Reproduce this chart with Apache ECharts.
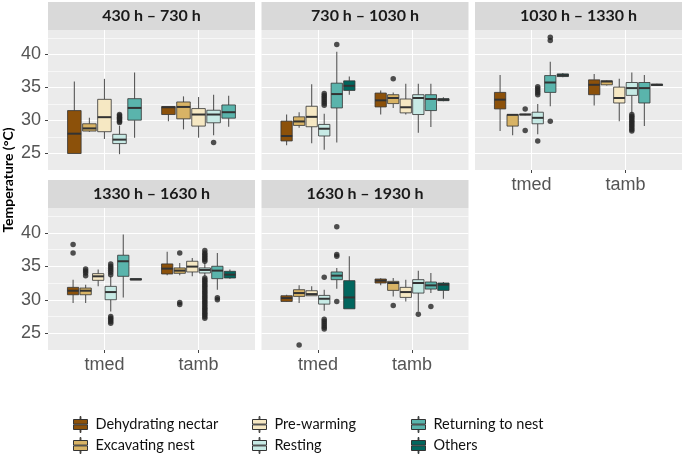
<!DOCTYPE html>
<html><head><meta charset="utf-8">
<script src="https://cdn.jsdelivr.net/npm/echarts@6/dist/echarts.min.js"></script>
<style>html,body{margin:0;padding:0;background:#fff}#c{width:685px;height:457px}</style>
</head><body><div id="c"></div>
<script>
// ---------- data ----------
const panelTitles = ['430 h \u2013 730 h','730 h \u2013 1030 h','1030 h \u2013 1330 h','1330 h \u2013 1630 h','1630 h \u2013 1930 h'];
const xCategories = ['tmed','tamb'];
const behaviors = ['Dehydrating nectar','Excavating nest','Pre-warming','Resting','Returning to nest','Others'];
const behaviorColors = ['#8c510a','#d8b365','#f6e8c3','#c7eae5','#5ab4ac','#01665e'];
const yTickLabels = [25,30,35,40];
const yMinorLines = [27.5,32.5,37.5,42.5];

// box stats: [low whisker, Q1, median, Q3, high whisker] per behaviour (null = absent)
const box_0430_tmed = [[25.0,25.0,28.0,31.5,35.9],[28.3,28.4,28.8,29.5,30.4],[27.2,28.3,30.5,33.2,36.3],[24.9,26.5,27.1,27.9,29.2],[27.4,30.05,31.9,33.3,37.25],null];
const box_0430_tamb = [[29.9,30.9,32.0,32.1,32.1],[28.65,30.25,32.05,32.8,33.65],[27.4,29.15,30.9,31.8,33.55],[27.75,29.65,30.9,31.55,33.9],[29.05,30.35,31.25,32.35,33.75],null];
const box_0730_tmed = [[26.25,26.9,27.65,29.9,30.9],[28.9,29.25,29.85,30.55,31.25],[26.55,29.05,30.55,32.15,35.5],[25.55,27.65,28.75,29.4,31.0],[26.65,31.9,34.0,35.65,40.4],[33.9,34.55,35.25,36.0,36.65]];
const box_0730_tamb = [[30.9,32.05,33.05,34.15,34.55],[31.9,32.55,33.4,33.9,34.25],[30.9,31.15,32.0,33.25,35.55],[28.15,30.9,33.4,33.9,35.55],[29.0,31.5,33.25,33.9,35.55],[32.9,33.0,33.15,33.3,33.5]];
const box_1030_tmed = [[28.4,31.75,33.15,34.25,36.9],[27.75,29.15,30.85,30.9,30.9],[30.8,30.85,30.9,30.95,31.0],[27.9,29.5,30.4,31.25,32.5],[32.15,34.25,35.75,36.8,38.9],[36.55,36.65,36.85,37.05,37.2]];
const box_1030_tamb = [[32.25,33.9,35.4,36.15,37.05],[35.3,35.4,35.9,36.0,36.1],[29.9,32.65,33.4,35.05,36.3],[31.15,33.8,34.9,35.75,37.25],[29.15,32.65,34.9,35.75,36.9],[35.25,35.3,35.4,35.5,35.55]];
const box_1330_tmed = [[29.5,30.75,31.35,31.85,33.0],[29.5,30.75,31.35,31.75,32.25],[32.0,32.9,33.5,33.9,34.5],[28.25,30.0,31.15,32.0,33.5],[30.35,33.5,35.75,36.65,39.75],[32.95,32.95,33.05,33.15,33.15]];
const box_1330_tamb = [[33.65,33.85,34.65,35.35,37.15],[33.65,33.95,34.35,34.75,35.5],[33.5,34.15,34.95,35.75,36.25],[33.5,34.0,34.45,34.75,35.5],[31.5,33.15,34.35,35.0,37.0],[33.15,33.25,33.75,34.25,34.5]];
const box_1630_tmed = [[29.7,29.75,30.25,30.6,30.75],[29.5,30.5,31.0,31.5,32.15],[30.6,30.6,30.85,31.35,32.0],[28.35,29.35,30.15,30.65,31.5],[31.65,33.0,33.6,34.15,34.75],[28.65,28.65,30.35,32.85,36.5]];
const box_1630_tamb = [[32.15,32.5,32.85,33.1,33.2],[30.5,31.4,32.5,32.75,33.25],[29.75,30.35,31.15,31.85,33.0],[28.25,31.0,32.5,33.0,34.35],[31.0,31.6,32.15,32.65,34.0],[30.15,31.4,32.25,32.5,32.65]];

// outliers per behaviour
const out_0430_tmed = [[],[],[],[29.7,29.9,30.1,30.3,30.5,30.7,30.9],[],[]];
const out_0430_tamb = [[],[],[],[26.65],[],[]];
const out_0730_tmed = [[],[],[],[32.3,32.6,32.9,33.2,33.5,33.8,34.1],[41.5],[]];
const out_0730_tamb = [[],[36.3],[],[],[],[]];
const out_1030_tmed = [[],[],[31.75,28.5],[33.9,34.2,34.5,34.8,35.1,26.9],[29.9,42.1,42.6],[]];
const out_1030_tamb = [[],[],[],[28.4,28.65,28.9,29.15,29.4,29.65,29.9,30.15,30.4,30.65,30.9],[],[]];
const out_1330_tmed = [[37.0,38.25],[33.6,34.0,34.3,34.6],[],[33.75,34.1,34.4,34.7,35.0,35.35,26.5,26.75,27.0,27.25,27.5],[],[]];
const out_1330_tamb = [[],[37.0,29.3,29.6],[],[35.75,36.0,36.25,36.5,36.75,37.0,37.35,27.25,27.5,27.75,28.0,28.25,28.5,28.75,29.0,29.25,29.5,29.75,30.0,30.25,30.5,30.75,31.0,31.25,31.5,31.75,32.0,32.25,32.5,32.75,33.0,33.25],[30.0,30.3],[]];
const out_1630_tmed = [[],[23.25],[],[33.35,25.65,25.9,26.2,26.5,26.8,27.1],[29.75,36.5,36.75,40.9],[]];
const out_1630_tamb = [[],[29.15],[],[27.85],[29.0],[]];

const panelBoxes = [[box_0430_tmed,box_0430_tamb],[box_0730_tmed,box_0730_tamb],[box_1030_tmed,box_1030_tamb],[box_1330_tmed,box_1330_tamb],[box_1630_tmed,box_1630_tamb]];
const panelOutliers = [[out_0430_tmed,out_0430_tamb],[out_0730_tmed,out_0730_tamb],[out_1030_tmed,out_1030_tamb],[out_1330_tmed,out_1330_tamb],[out_1630_tmed,out_1630_tamb]];

// ---------- layout ----------
const grids = [
  {left:48, top:30, width:207, height:140},
  {left:261.5, top:30, width:207, height:140},
  {left:475, top:30, width:207, height:140},
  {left:48, top:208, width:207, height:142},
  {left:261.5, top:208, width:207, height:142}
];
const showX = [false,false,true,true,true];
const showY = [true,false,false,true,false];
const Y_MIN = 22.5, Y_MAX = 43.7;
const axisTextColor = '#555';
const lineCol = '#333';

const xAxes = [], yAxes = [], series = [], graphics = [];
grids.forEach((g, i) => {
  xAxes.push({
    gridIndex: i, type: 'value', min: 0.4, max: 2.6,
    axisLine: {show: false},
    axisTick: {show: showX[i], customValues: [1,2], length: 3, lineStyle: {color: '#444'}},
    axisLabel: {show: showX[i], customValues: [1,2], formatter: v => xCategories[Math.round(v)-1] || '',
      fontSize: 18, color: axisTextColor, margin: 6, fontFamily: 'Liberation Sans'},
    splitLine: {show: true, lineStyle: {color: '#fff', width: 1.1}}
  });
  yAxes.push({
    gridIndex: i, type: 'value', min: Y_MIN, max: Y_MAX,
    axisLine: {show: false},
    axisTick: {show: showY[i], customValues: yTickLabels, length: 3, lineStyle: {color: '#444'}},
    axisLabel: {show: showY[i], customValues: yTickLabels, fontSize: 18, color: axisTextColor, margin: 7, fontFamily: 'Liberation Sans'},
    splitLine: {show: true, lineStyle: {color: '#fff', width: 1.1}}
  });
  yAxes.push({
    gridIndex: i, type: 'value', min: Y_MIN, max: Y_MAX, position: 'right',
    axisLine: {show: false},
    axisTick: {show: false, customValues: yMinorLines},
    axisLabel: {show: false, customValues: yMinorLines},
    splitLine: {show: true, lineStyle: {color: '#fff', width: 0.6}}
  });
  // strip
  graphics.push({type: 'rect', shape: {x: g.left, y: g.top - 28, width: g.width, height: 28}, style: {fill: '#d9d9d9'}, silent: true});
  graphics.push({type: 'text', x: g.left + g.width/2, y: g.top - 14,
    style: {text: panelTitles[i], fontSize: 16, fontWeight: 'bold', fontFamily: 'Lato', fill: '#1a1a1a', align: 'center', verticalAlign: 'middle'}});
});

function renderBox(params, api) {
  const x = api.value(0), lo = api.value(1), q1 = api.value(2), md = api.value(3), q3 = api.value(4), hi = api.value(5), hw = api.value(6);
  const tl = api.coord([x - hw, q3]);
  const br = api.coord([x + hw, q1]);
  const cHi = api.coord([x, hi]), cLo = api.coord([x, lo]), cMd = api.coord([x, md]);
  const color = api.visual('color');
  return {type: 'group', children: [
    {type: 'line', shape: {x1: cHi[0], y1: cHi[1], x2: cHi[0], y2: tl[1]}, style: {stroke: lineCol, lineWidth: 1.1, opacity: 0.8}},
    {type: 'line', shape: {x1: cLo[0], y1: br[1], x2: cLo[0], y2: cLo[1]}, style: {stroke: lineCol, lineWidth: 1.1, opacity: 0.8}},
    {type: 'rect', shape: {x: tl[0], y: tl[1], width: br[0] - tl[0], height: Math.max(br[1] - tl[1], 0.5)}, style: {fill: color, stroke: lineCol, lineWidth: 1, strokeOpacity: 0.8}},
    {type: 'line', shape: {x1: tl[0], y1: cMd[1], x2: br[0], y2: cMd[1]}, style: {stroke: lineCol, lineWidth: 2}}
  ]};
}

panelBoxes.forEach((cats, pi) => {
  const slotInfo = cats.map(arr => {
    const present = [];
    arr.forEach((b, bi) => { if (b) present.push(bi); });
    const n = present.length, slot = 0.8 / n, pos = {};
    present.forEach((bi, k) => { pos[bi] = (k - (n - 1) / 2) * slot; });
    return {pos, half: slot * 0.9 / 2};
  });
  behaviors.forEach((name, bi) => {
    const data = [];
    cats.forEach((arr, ci) => {
      const b = arr[bi];
      if (b) data.push([ci + 1 + slotInfo[ci].pos[bi]].concat(b, [slotInfo[ci].half]));
    });
    if (!data.length) return;
    series.push({type: 'custom', name, xAxisIndex: pi, yAxisIndex: 2*pi, data,
      itemStyle: {color: behaviorColors[bi]},
      encode: {x: 0, y: [1,2,3,4,5]}, renderItem: renderBox, z: 3});
  });
  const pts = [];
  panelOutliers[pi].forEach((arr, ci) => {
    arr.forEach((vals, bi) => {
      vals.forEach(v => pts.push([ci + 1 + slotInfo[ci].pos[bi], v]));
    });
  });
  series.push({type: 'scatter', name: 'outliers', xAxisIndex: pi, yAxisIndex: 2*pi, data: pts,
    symbolSize: 5.5, itemStyle: {color: '#262626'}, z: 4, silent: true});
});

graphics.push({type: 'text', x: 8, y: 180, rotation: Math.PI/2,
  style: {text: 'Temperature (\u00b0C)', fontSize: 14, fontWeight: 'bold', fontFamily: 'Lato', fill: '#000', align: 'center', verticalAlign: 'middle'}});

// legend: 3 columns x 2 rows, filled by column
const keyIcon = 'path://M0,3H14V7.6H0Z M0,8.4H14V13H0Z M6.6,0H7.4V3H6.6Z M6.6,13H7.4V16H6.6Z';
const legendLeft = [73, 252, 411];
const legendTop = [416, 437];
const legends = behaviors.map((name, bi) => ({
  left: legendLeft[Math.floor(bi / 2)], top: legendTop[bi % 2],
  itemWidth: 14, itemHeight: 16, padding: 0,
  selectedMode: false,
  data: [{name, icon: keyIcon}],
  itemStyle: {borderColor: '#333', borderWidth: 1},
  textStyle: {fontSize: 14.5, color: '#111', fontFamily: 'Lato', padding: [0,0,0,3]}
}));

const chart = echarts.init(document.getElementById('c'), null, {renderer: 'canvas'});
chart.setOption({
  animation: false,
  backgroundColor: '#fff',
  grid: grids.map(g => Object.assign({show: true, backgroundColor: '#ebebeb', borderWidth: 0, containLabel: false}, g)),
  xAxis: xAxes, yAxis: yAxes,
  legend: legends,
  graphic: graphics,
  series
});
</script></body></html>
